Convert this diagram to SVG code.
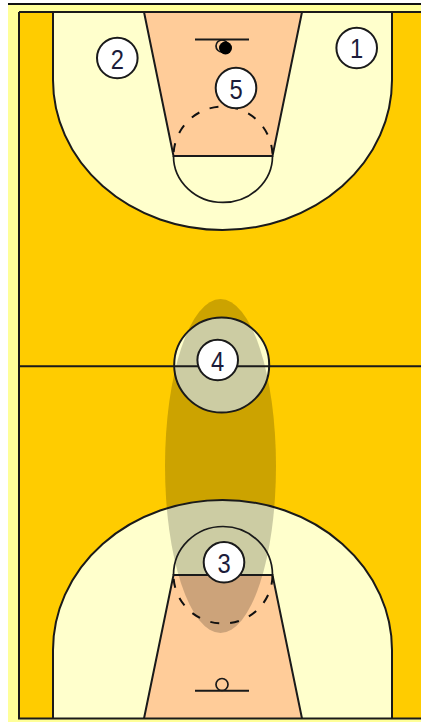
<svg xmlns="http://www.w3.org/2000/svg" width="421" height="722" viewBox="0 0 421 722">
<style>
.l{fill:none;stroke:#1a1a1a;stroke-width:2}
.t{fill:none;stroke:#1a1a1a;stroke-width:1.700}
.d{fill:none;stroke:#111;stroke-width:2;stroke-dasharray:9 11;stroke-dashoffset:-4}
.a{fill:#ffffcc}
.k{fill:#ffcc99}
.p circle{fill:#fff;stroke:#1a1a1a;stroke-width:2}
.p text{font-family:"Liberation Sans",Arial,sans-serif;font-size:27px;fill:#1c1c3a;text-anchor:middle}
</style>
<rect width="421" height="722" fill="#fff"/>
<rect x="8" y="4" width="413" height="718" fill="#ffff99"/>
<rect x="8" y="3" width="413" height="2" fill="#111"/>
<rect x="19" y="12" width="402" height="706.500" fill="#ffcc00"/>
<g id="court-fills">
<path class="a" d="M53 12V80A169.500 150 0 0 0 392 80V12Z"/>
<path class="a" d="M53 718.500V650A169.500 150 0 0 1 392 650V718.500Z"/>
<path class="k" d="M144 12H302L272.500 156H173.500Z"/>
<path class="k" d="M144 718.500H302L272.500 575H173.500Z"/>
<path class="a" d="M173.500 156A49 46 0 0 0 272.500 156Z"/>
<path class="a" d="M173.500 575A49 48 0 0 1 272.500 575Z"/>
<circle class="a" cx="221.700" cy="365" r="47.500"/>
</g>
<ellipse id="shaded-zone" cx="220.500" cy="466" rx="55.500" ry="167" fill="#000" fill-opacity=".2"/>
<g id="connectors">
<path class="l" d="M19 12H421M19 12V718.500H421"/>
<path class="l" d="M53 12V80A169.500 150 0 0 0 392 80V12"/>
<path class="l" d="M53 718.500V650A169.500 150 0 0 1 392 650V718.500"/>
<path class="l" d="M144 12L173.500 156H272.500L302 12"/>
<path class="l" d="M144 718.500L173.500 575H272.500L302 718.500"/>
<path class="t" d="M173.500 156A49 46 0 0 0 272.500 156"/>
<path class="t" d="M173.500 575A49 48 0 0 1 272.500 575"/>
<path class="d" d="M173.500 156A49 49 0 0 1 272.500 156"/>
<path class="d" d="M173.500 575A49 48 0 0 0 272.500 575"/>
<path class="l" d="M19 366.300H421"/>
<circle class="l" cx="221.700" cy="365" r="47.500"/>
<path class="l" d="M195 39.500H249M195 690.700H249"/>
<circle class="t" cx="222" cy="46" r="6"/>
<circle class="t" cx="222" cy="684.500" r="6"/>
</g>
<circle id="ball" cx="225.500" cy="48" r="6.500" fill="#000"/>
<g id="player-1" class="p"><circle cx="356.700" cy="48" r="20.300"/><text transform="translate(356.700 58) scale(.88 1)">1</text></g>
<g id="player-2" class="p"><circle cx="117.300" cy="58" r="20.300"/><text transform="translate(117.300 68.500) scale(.88 1)">2</text></g>
<g id="player-5" class="p"><circle cx="236" cy="88" r="20.300"/><text transform="translate(236 99) scale(.88 1)">5</text></g>
<g id="player-4" class="p"><circle cx="217.700" cy="360" r="20.300"/><text transform="translate(217.700 371) scale(.88 1)">4</text></g>
<g id="player-3" class="p"><circle cx="224" cy="562.300" r="20.300"/><text transform="translate(224 573) scale(.88 1)">3</text></g>
</svg>
